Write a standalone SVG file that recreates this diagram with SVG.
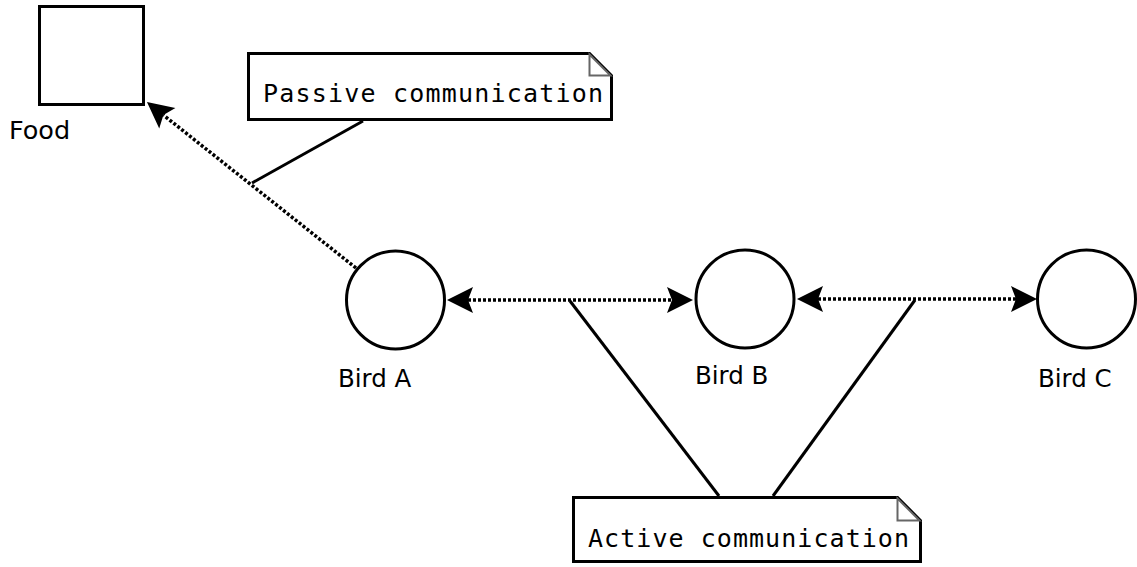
<svg xmlns="http://www.w3.org/2000/svg" width="1137" height="567" viewBox="0 0 1137 567">
<style>
.shape{fill:#fff;stroke:#000;stroke-width:3}
.fold{fill:#fff;stroke:#666;stroke-width:2}
.lbl{font-family:"DejaVu Sans",sans-serif;font-size:24.5px;fill:#000}
.mono{font-family:"DejaVu Sans Mono","Liberation Mono",monospace;font-size:25px;fill:#000}
.dot{fill:none;stroke:#000;stroke-width:3.5;stroke-dasharray:3 2}
.solid{fill:none;stroke:#000;stroke-width:3}
</style>
<defs>
<marker id="arr" markerUnits="userSpaceOnUse" markerWidth="30" markerHeight="30" viewBox="0 -15 30 30" refX="5" refY="0" orient="auto-start-reverse" overflow="visible">
<path d="M26,0 L0,-13 L5,0 L0,13 Z" fill="#000"/>
</marker>
</defs>
<rect width="1137" height="567" fill="#fff"/>
<g id="connectors">
<line class="dot" x1="356" y1="268" x2="163.4" y2="115.1" marker-end="url(#arr)"/>
<line class="dot" x1="468" y1="300" x2="672" y2="300" marker-start="url(#arr)" marker-end="url(#arr)"/>
<line class="dot" x1="818" y1="299" x2="1016" y2="299" marker-start="url(#arr)" marker-end="url(#arr)"/>
<line class="solid" x1="363" y1="121" x2="252" y2="183"/>
<line class="solid" x1="570" y1="301" x2="719" y2="496"/>
<line class="solid" x1="915" y1="300" x2="773" y2="496"/>
</g>
<g id="food">
<rect class="shape" x="39.5" y="6.5" width="104" height="98"/>
<text class="lbl" x="9" y="139" style="font-size:25.5px">Food</text>
</g>
<g id="passive-note">
<path class="shape" d="M248.5,53.5 H589.5 L611.5,75.5 V119.5 H248.5 Z"/>
<path class="fold" d="M589.5,54.5 V75.5 H610.5 Z"/>
<text class="mono" x="263" y="102" textLength="340">Passive communication</text>
</g>
<g id="bird-a">
<circle class="shape" cx="395.5" cy="300" r="49"/>
<text class="lbl" x="338" y="387">Bird A</text>
</g>
<g id="bird-b">
<circle class="shape" cx="745" cy="299" r="49"/>
<text class="lbl" x="695" y="384">Bird B</text>
</g>
<g id="bird-c">
<circle class="shape" cx="1086.5" cy="299" r="49"/>
<text class="lbl" x="1038" y="387">Bird C</text>
</g>
<g id="active-note">
<path class="shape" d="M573.5,497.5 H897.5 L920.5,520.5 V561.5 H573.5 Z"/>
<path class="fold" d="M897.5,498.5 V520.5 H919.5 Z"/>
<text class="mono" x="588" y="547" textLength="321">Active communication</text>
</g>
</svg>
